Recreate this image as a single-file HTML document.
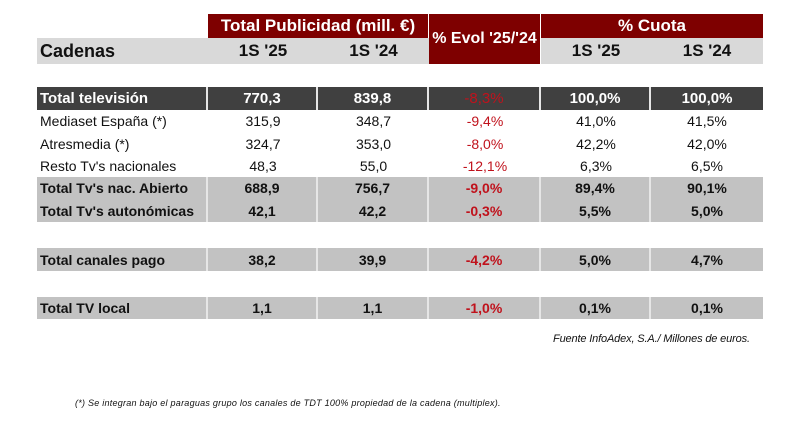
<!DOCTYPE html>
<html><head><meta charset="utf-8"><style>
body{margin:0;width:806px;height:425px;background:#fff;position:relative;overflow:hidden;font-family:"Liberation Sans",Arial,sans-serif;}
.b{position:absolute;box-sizing:border-box;display:flex;align-items:center;justify-content:center;font-size:14px;color:#111;}
.l{justify-content:flex-start;padding-left:3px;}
.bold{font-weight:bold;}
.red{color:#c0121c;}
.h{background:#7e0000;color:#fff;font-weight:bold;font-size:17px;}
.g{background:#c2c2c2;}
.lg{background:#d9d9d9;}
.dk{background:#404040;color:#fff;font-weight:bold;font-size:15px;}
.sep{border-right:2px solid #e6e6e6;}
</style></head><body>
<div class="b h" style="left:208px;top:14px;width:220px;height:24px;">Total Publicidad (mill. €)</div>
<div class="b h" style="left:429px;top:14px;width:111px;height:50px;font-size:16px;">% Evol '25/'24</div>
<div class="b h" style="left:541px;top:14px;width:222px;height:24px;">% Cuota</div>
<div class="b lg bold l" style="left:37px;top:38px;width:171px;height:26px;font-size:18px;">Cadenas</div>
<div class="b lg bold" style="left:208px;top:38px;width:110px;height:26px;font-size:17px;">1S '25</div>
<div class="b lg bold" style="left:318px;top:38px;width:111px;height:26px;font-size:17px;">1S '24</div>
<div class="b lg bold" style="left:541px;top:38px;width:110px;height:26px;font-size:17px;">1S '25</div>
<div class="b lg bold" style="left:651px;top:38px;width:112px;height:26px;font-size:17px;">1S '24</div>

<div class="b dk l sep" style="left:37px;top:87px;width:171px;height:23px;">Total televisión</div>
<div class="b dk sep" style="left:208px;top:87px;width:110px;height:23px;">770,3</div>
<div class="b dk sep" style="left:318px;top:87px;width:111px;height:23px;">839,8</div>
<div class="b dk sep" style="left:429px;top:87px;width:112px;height:23px;color:#c0121c;font-weight:normal;">-8,3%</div>
<div class="b dk sep" style="left:541px;top:87px;width:110px;height:23px;">100,0%</div>
<div class="b dk" style="left:651px;top:87px;width:112px;height:23px;">100,0%</div>

<div class="b l" style="left:37px;top:110px;width:171px;height:22px;">Mediaset España (*)</div>
<div class="b" style="left:208px;top:110px;width:110px;height:22px;">315,9</div>
<div class="b" style="left:318px;top:110px;width:111px;height:22px;">348,7</div>
<div class="b red" style="left:429px;top:110px;width:112px;height:22px;">-9,4%</div>
<div class="b" style="left:541px;top:110px;width:110px;height:22px;">41,0%</div>
<div class="b" style="left:651px;top:110px;width:112px;height:22px;">41,5%</div>

<div class="b l" style="left:37px;top:132px;width:171px;height:23px;">Atresmedia (*)</div>
<div class="b" style="left:208px;top:132px;width:110px;height:23px;">324,7</div>
<div class="b" style="left:318px;top:132px;width:111px;height:23px;">353,0</div>
<div class="b red" style="left:429px;top:132px;width:112px;height:23px;">-8,0%</div>
<div class="b" style="left:541px;top:132px;width:110px;height:23px;">42,2%</div>
<div class="b" style="left:651px;top:132px;width:112px;height:23px;">42,0%</div>

<div class="b l" style="left:37px;top:155px;width:171px;height:22px;">Resto Tv's nacionales</div>
<div class="b" style="left:208px;top:155px;width:110px;height:22px;">48,3</div>
<div class="b" style="left:318px;top:155px;width:111px;height:22px;">55,0</div>
<div class="b red" style="left:429px;top:155px;width:112px;height:22px;">-12,1%</div>
<div class="b" style="left:541px;top:155px;width:110px;height:22px;">6,3%</div>
<div class="b" style="left:651px;top:155px;width:112px;height:22px;">6,5%</div>

<div class="b g bold l sep" style="left:37px;top:177px;width:171px;height:22px;">Total Tv's nac. Abierto</div>
<div class="b g bold sep" style="left:208px;top:177px;width:110px;height:22px;">688,9</div>
<div class="b g bold sep" style="left:318px;top:177px;width:111px;height:22px;">756,7</div>
<div class="b g bold red sep" style="left:429px;top:177px;width:112px;height:22px;">-9,0%</div>
<div class="b g bold sep" style="left:541px;top:177px;width:110px;height:22px;">89,4%</div>
<div class="b g bold" style="left:651px;top:177px;width:112px;height:22px;">90,1%</div>

<div class="b g bold l sep" style="left:37px;top:199px;width:171px;height:23px;">Total Tv's autonómicas</div>
<div class="b g bold sep" style="left:208px;top:199px;width:110px;height:23px;">42,1</div>
<div class="b g bold sep" style="left:318px;top:199px;width:111px;height:23px;">42,2</div>
<div class="b g bold red sep" style="left:429px;top:199px;width:112px;height:23px;">-0,3%</div>
<div class="b g bold sep" style="left:541px;top:199px;width:110px;height:23px;">5,5%</div>
<div class="b g bold" style="left:651px;top:199px;width:112px;height:23px;">5,0%</div>

<div class="b g bold l sep" style="left:37px;top:248px;width:171px;height:23px;">Total canales pago</div>
<div class="b g bold sep" style="left:208px;top:248px;width:110px;height:23px;">38,2</div>
<div class="b g bold sep" style="left:318px;top:248px;width:111px;height:23px;">39,9</div>
<div class="b g bold red sep" style="left:429px;top:248px;width:112px;height:23px;">-4,2%</div>
<div class="b g bold sep" style="left:541px;top:248px;width:110px;height:23px;">5,0%</div>
<div class="b g bold" style="left:651px;top:248px;width:112px;height:23px;">4,7%</div>

<div class="b g bold l sep" style="left:37px;top:297px;width:171px;height:22px;">Total TV local</div>
<div class="b g bold sep" style="left:208px;top:297px;width:110px;height:22px;">1,1</div>
<div class="b g bold sep" style="left:318px;top:297px;width:111px;height:22px;">1,1</div>
<div class="b g bold red sep" style="left:429px;top:297px;width:112px;height:22px;">-1,0%</div>
<div class="b g bold sep" style="left:541px;top:297px;width:110px;height:22px;">0,1%</div>
<div class="b g bold" style="left:651px;top:297px;width:112px;height:22px;">0,1%</div>

<div style="position:absolute;left:553px;top:333px;font-size:11px;font-style:italic;color:#111;white-space:nowrap;letter-spacing:-0.15px;">Fuente InfoAdex, S.A./ Millones de euros.</div>
<div style="position:absolute;left:75px;top:398px;font-size:9px;font-style:italic;color:#111;white-space:nowrap;letter-spacing:0.25px;">(*) Se integran bajo el paraguas grupo los canales de TDT 100% propiedad de la cadena (multiplex).</div>
</body></html>
